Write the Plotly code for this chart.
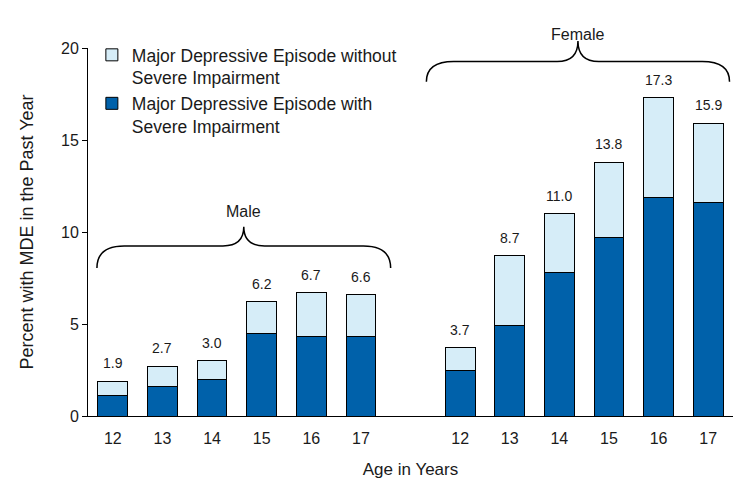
import plotly.graph_objects as go

ages = ["12", "13", "14", "15", "16", "17"]
male_total = [1.9, 2.7, 3.0, 6.2, 6.7, 6.6]
male_severe = [1.1, 1.6, 2.0, 4.5, 4.3, 4.3]
female_total = [3.7, 8.7, 11.0, 13.8, 17.3, 15.9]
female_severe = [2.5, 4.9, 7.8, 9.7, 11.9, 11.6]
groups = ["Male", "Female"]

male_pos = list(range(6))
female_pos = [p + 7 for p in range(6)]
xpos = male_pos + female_pos
totals = male_total + female_total
severe = male_severe + female_severe
without = [round(t - s, 1) for t, s in zip(totals, severe)]
ticktext = ages + ages

FONT = "Liberation Sans, Arial, sans-serif"
TXT = "#1a1a1a"
DARK = "#0061AA"
LIGHT = "#D6EDF8"

fig = go.Figure()
fig.add_trace(go.Bar(x=xpos, y=severe, name="Major Depressive Episode with<br>Severe Impairment",
                     legendgroup="b",
                     marker=dict(color=DARK, line=dict(color="black", width=1)), width=0.6,
                     hoverinfo="skip"))
fig.add_trace(go.Bar(x=xpos, y=without, name="Major Depressive Episode without<br>Severe Impairment",
                     legendgroup="a",
                     marker=dict(color=LIGHT, line=dict(color="black", width=1)), width=0.6,
                     hoverinfo="skip"))

annotations = []
for x, t in zip(xpos, totals):
    annotations.append(dict(x=x, y=t, xref="x", yref="y", text=f"{t:.1f}", showarrow=False,
                            yanchor="bottom", yshift=8, font=dict(family=FONT, size=14, color=TXT)))


def brace(x0, x1, yend, yh, ytip, de=0.55, dt=0.42):
    xm = (x0 + x1) / 2
    return (f"M {x0},{yend} Q {x0},{yh} {x0 + de},{yh} L {xm - dt},{yh} "
            f"Q {xm},{yh} {xm},{ytip} Q {xm},{yh} {xm + dt},{yh} "
            f"L {x1 - de},{yh} Q {x1},{yh} {x1},{yend}")


shapes = []
# Male brace
mx0, mx1 = male_pos[0] - 0.32, male_pos[-1] + 0.6
shapes.append(dict(type="path", xref="x", yref="paper", path=brace(mx0, mx1, 0.402, 0.462, 0.514),
                   line=dict(color="black", width=1.5)))
annotations.append(dict(x=(mx0 + mx1) / 2, y=0.557, xref="x", yref="paper", text=groups[0],
                        showarrow=False, font=dict(family=FONT, size=16, color=TXT)))
# Female brace
fx0, fx1 = female_pos[0] - 0.68, female_pos[-1] + 0.43
shapes.append(dict(type="path", xref="x", yref="paper", path=brace(fx0, fx1, 0.908, 0.963, 1.019),
                   line=dict(color="black", width=1.5)))
annotations.append(dict(x=(fx0 + fx1) / 2, y=1.065, xref="x", yref="paper", text=groups[1],
                        showarrow=False, font=dict(family=FONT, size=16, color=TXT)))

fig.update_layout(
    width=752, height=496,
    margin=dict(l=88, r=19, t=48, b=80),
    barmode="stack",
    plot_bgcolor="white", paper_bgcolor="white",
    font=dict(family=FONT, size=16, color=TXT),
    showlegend=True,
    legend=dict(x=0.006, y=1.03, xanchor="left", yanchor="top", traceorder="reversed",
                valign="top", font=dict(family=FONT, size=17.5, color=TXT),
                bgcolor="rgba(0,0,0,0)", tracegroupgap=3),
    xaxis=dict(range=[-0.5, 12.5], tickmode="array", tickvals=xpos, ticktext=ticktext,
               showline=True, linecolor="black", linewidth=1, ticks="outside", ticklen=8,
               tickcolor="rgba(0,0,0,0)", showgrid=False,
               zeroline=False, tickfont=dict(family=FONT, size=16, color=TXT),
               title=dict(text="Age in Years", font=dict(family=FONT, size=17, color=TXT), standoff=16)),
    yaxis=dict(range=[0, 20], tickvals=[0, 5, 10, 15, 20], showline=True, linecolor="black",
               linewidth=1, ticks="outside", ticklen=5, tickcolor="black", showgrid=False,
               zeroline=False, tickfont=dict(family=FONT, size=16, color=TXT),
               title=dict(text="Percent with MDE in the Past Year", font=dict(family=FONT, size=18, color=TXT),
                          standoff=22)),
    shapes=shapes,
    annotations=annotations,
)

fig.write_html("out.html")
